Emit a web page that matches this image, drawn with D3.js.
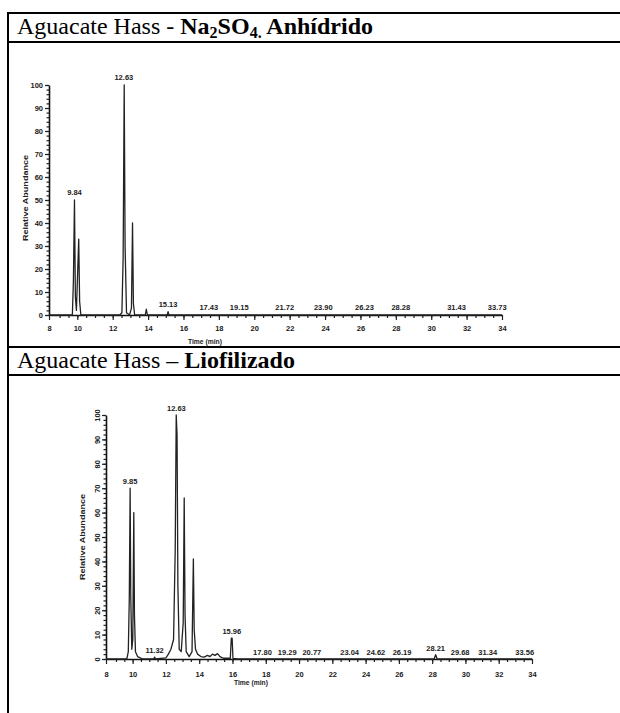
<!DOCTYPE html>
<html>
<head>
<meta charset="utf-8">
<script src="https://cdn.jsdelivr.net/npm/d3@7"></script>
<style>
  body { margin: 0; background: #fff; }
  svg { display: block; }
</style>
</head>
<body>
<script>
// Axis ticks (first tick is the start of the time axis, labelled "8")
const xTickValues = [8.4, 10, 12, 14, 16, 18, 20, 22, 24, 26, 28, 30, 32, 34];
const xTickLabels = ["8", "10", "12", "14", "16", "18", "20", "22", "24", "26", "28", "30", "32", "34"];
const yTickValues = [0, 10, 20, 30, 40, 50, 60, 70, 80, 90, 100];

// Panel 1 - Na2SO4 anhidro : [time (min), relative abundance]
const trace1 = [
  [8.4, 0], [9.72, 0], [9.78, 15], [9.84, 50], [9.89, 8], [9.95, 2], [10.08, 33],
  [10.13, 6], [10.2, 0], [12.4, 0], [12.52, 1], [12.59, 25], [12.65, 100],
  [12.7, 30], [12.78, 1], [12.95, 0], [13.06, 3], [13.12, 40], [13.17, 5],
  [13.24, 0], [13.84, 0], [13.9, 2.5], [13.96, 0], [15.08, 0], [15.13, 1.5],
  [15.18, 0], [34, 0]
];
const peakLabels1 = ["9.84", "12.63", "15.13", "17.43", "19.15", "21.72", "23.90", "26.23", "28.28", "31.43", "33.73"];
const peakLevels1 = [50, 100, 1.5, 0, 0, 0, 0, 0, 0, 0, 0];

// Panel 2 - Liofilizado
const trace2 = [
  [8.4, 0], [9.65, 0], [9.74, 3], [9.8, 25], [9.85, 70], [9.89, 25], [9.95, 4],
  [10.01, 8], [10.07, 60], [10.11, 18], [10.17, 3], [10.3, 1], [10.6, 0],
  [11.28, 0], [11.32, 0.8], [11.38, 0], [12.0, 0.5], [12.15, 2], [12.3, 4],
  [12.46, 8], [12.56, 45], [12.62, 100], [12.67, 92], [12.72, 30], [12.8, 4],
  [12.92, 3], [13.04, 15], [13.1, 66], [13.15, 18], [13.22, 3], [13.4, 1],
  [13.57, 3], [13.65, 41], [13.7, 12], [13.78, 4], [13.9, 2], [14.1, 1],
  [14.3, 0.8], [14.5, 1.5], [14.65, 1], [14.8, 2], [14.95, 1.5], [15.1, 2.2],
  [15.25, 1], [15.45, 0.3], [15.87, 0.3], [15.93, 8.5], [15.98, 8.5],
  [16.03, 0.3], [16.3, 0], [28.12, 0], [28.21, 1.8], [28.3, 0], [34, 0]
];
const peakLabels2 = ["9.85", "11.32", "12.63", "15.96", "17.80", "19.29", "20.77", "23.04", "24.62", "26.19", "28.21", "29.68", "31.34", "33.56"];
const peakLevels2 = [70, 0.8, 100, 8.5, 0, 0, 0, 0, 0, 0, 1.8, 0, 0, 0];

var svg = d3
  .select("body")
  .append("svg")
  .attr("width", 620)
  .attr("height", 713);

svg.append("rect").attr("width", 620).attr("height", 713).attr("fill", "#fff");

// Table borders
[13, 42, 347, 375].forEach(function (yy) {
  svg.append("line")
    .attr("x1", 7).attr("x2", 620)
    .attr("y1", yy).attr("y2", yy)
    .attr("stroke", "#000").attr("stroke-width", 2);
});
svg.append("line")
  .attr("x1", 8).attr("x2", 8)
  .attr("y1", 12).attr("y2", 713)
  .attr("stroke", "#000").attr("stroke-width", 2);

// Row headers
var serif = "'Liberation Serif', 'Times New Roman', serif";

var head1 = svg.append("text")
  .attr("x", 17).attr("y", 34)
  .style("font-family", serif).style("font-size", "24px")
  .style("white-space", "pre");
head1.append("tspan").text("Aguacate Hass - ");
head1.append("tspan").style("font-weight", "bold").text("Na");
head1.append("tspan").style("font-weight", "bold").style("font-size", "16px").attr("dy", 4).text("2");
head1.append("tspan").style("font-weight", "bold").attr("dy", -4).text("SO");
head1.append("tspan").style("font-weight", "bold").style("font-size", "16px").attr("dy", 4).text("4.");
head1.append("tspan").style("font-weight", "bold").attr("dy", -4).text(" Anhídrido");

var head2 = svg.append("text")
  .attr("x", 17).attr("y", 368)
  .style("font-family", serif).style("font-size", "24px")
  .style("white-space", "pre");
head2.append("tspan").text("Aguacate Hass – ");
head2.append("tspan").style("font-weight", "bold").text("Liofilizado");

// One chromatogram panel
function drawChart(o) {
  var x = d3.scaleLinear()
    .domain([xTickValues[0], xTickValues[xTickValues.length - 1]])
    .range([o.left, o.right]);
  var y = d3.scaleLinear().domain([0, 100]).range([o.bottom, o.top]);

  var g = svg.append("g")
    .style("font-family", "'Liberation Sans', Arial, sans-serif")
    .style("font-weight", "bold");

  // minor ticks
  g.append("g")
    .attr("transform", "translate(0," + o.bottom + ")")
    .call(d3.axisBottom(x).tickValues(d3.range(9, 34, 0.5)).tickSize(3).tickFormat(""))
    .call(function (s) { s.select(".domain").remove(); });
  g.append("g")
    .attr("transform", "translate(" + o.left + ",0)")
    .call(d3.axisLeft(y).tickValues(d3.range(0, 101, 2)).tickSize(2.5).tickFormat(""))
    .call(function (s) { s.select(".domain").remove(); });

  // major x axis
  var gx = g.append("g")
    .attr("transform", "translate(0," + o.bottom + ")")
    .call(d3.axisBottom(x)
      .tickValues(xTickValues)
      .tickSize(5)
      .tickSizeOuter(0)
      .tickPadding(o.xPad)
      .tickFormat(function (d, i) { return xTickLabels[i]; }));
  gx.selectAll("text").style("font-size", "7.5px").attr("fill", "#1a1a1a");

  // major y axis
  var gy = g.append("g")
    .attr("transform", "translate(" + o.left + ",0)")
    .call(d3.axisLeft(y).tickValues(yTickValues).tickSize(4).tickSizeOuter(0).tickPadding(2));
  gy.selectAll("text").style("font-size", "7.5px").attr("fill", "#1a1a1a");
  if (o.rotateY) {
    gy.selectAll("text")
      .attr("x", null)
      .attr("text-anchor", "middle")
      .attr("transform", "translate(-9,0) rotate(-90)")
      .attr("dy", "0.35em");
  }

  g.selectAll(".domain").attr("stroke-width", 1.6).attr("stroke", "#111");
  g.selectAll(".tick line").attr("stroke", "#222").attr("stroke-width", 1.2);

  // trace
  g.append("path")
    .datum(o.trace)
    .attr("fill", "none")
    .attr("stroke", "#222")
    .attr("stroke-width", 1.3)
    .attr("stroke-linejoin", "round")
    .attr("d", d3.line().x(function (d) { return x(d[0]); }).y(function (d) { return y(d[1]); }));

  // peak labels
  g.selectAll("text.peak")
    .data(o.labels)
    .enter()
    .append("text")
    .attr("class", "peak")
    .attr("x", function (d) { return x(+d); })
    .attr("y", function (d, i) { return y(o.levels[i]) - o.labelGap; })
    .attr("text-anchor", "middle")
    .style("font-size", "7.5px")
    .attr("fill", "#1a1a1a")
    .text(function (d) { return d; });

  // axis titles
  g.append("text")
    .attr("transform", "translate(" + o.yTitle[0] + "," + o.yTitle[1] + ") rotate(-90)")
    .attr("text-anchor", "middle")
    .attr("textLength", 86)
    .attr("lengthAdjust", "spacingAndGlyphs")
    .style("font-size", "7.5px")
    .attr("fill", "#222")
    .text("Relative Abundance");

  g.append("text")
    .attr("x", o.xTitle[0]).attr("y", o.xTitle[1])
    .attr("text-anchor", "middle")
    .attr("textLength", 34)
    .attr("lengthAdjust", "spacingAndGlyphs")
    .style("font-size", "7.5px")
    .attr("fill", "#222")
    .text("Time (min)");
}

drawChart({
  left: 49, right: 502, top: 85, bottom: 315, xPad: 6,
  trace: trace1, labels: peakLabels1, levels: peakLevels1, labelGap: 5,
  yTitle: [28, 198], xTitle: [205, 344], rotateY: false
});

drawChart({
  left: 106, right: 532, top: 415, bottom: 659, xPad: 8,
  trace: trace2, labels: peakLabels2, levels: peakLevels2, labelGap: 4,
  yTitle: [85, 537], xTitle: [251, 685], rotateY: true
});
</script>
</body>
</html>
